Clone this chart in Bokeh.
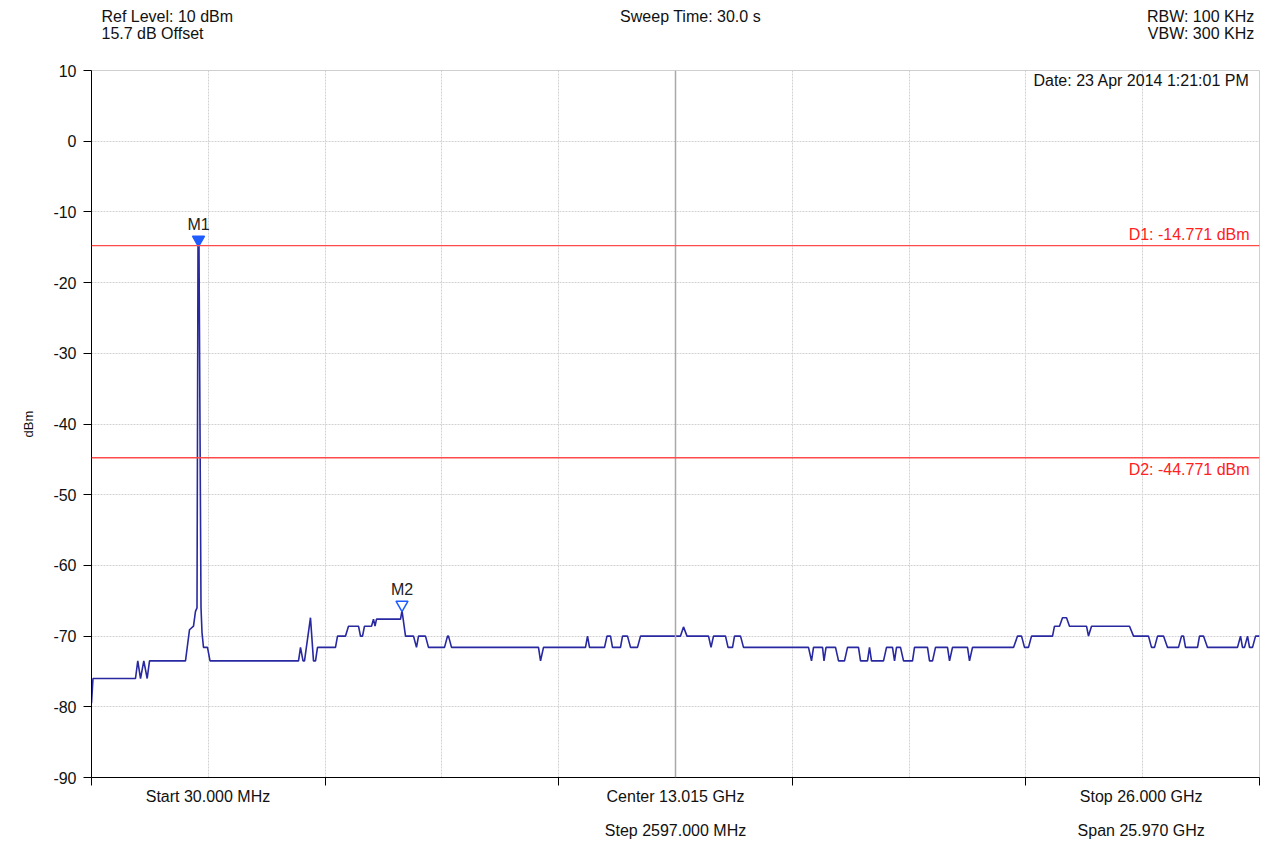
from bokeh.plotting import figure
from bokeh.models import FixedTicker, Span, Label, Range1d, LinearAxis
from bokeh.core.properties import value
from bokeh.embed import file_html
from bokeh.resources import INLINE

# ---------------- data ----------------
start_ghz = 0.030
stop_ghz = 26.000
center_ghz = 13.015
step_ghz = 2.597

y_ticks = [10, 0, -10, -20, -30, -40, -50, -60, -70, -80, -90]

freq_ghz = [
    0.030, 0.063, 1.008, 1.059, 1.120, 1.193, 1.268, 1.320, 2.120, 2.209,
    2.298, 2.342, 2.376, 2.398, 2.420, 2.465, 2.487, 2.520, 2.609, 2.665,
    4.633, 4.677, 4.733, 4.766, 4.899, 4.966, 5.011, 5.055, 5.455, 5.500,
    5.678, 5.744, 5.967, 6.011, 6.056, 6.100, 6.256, 6.300, 6.334, 6.367,
    6.901, 6.934, 7.012, 7.190, 7.256, 7.301, 7.456, 7.523, 7.879, 7.946,
    7.968, 8.035, 9.969, 10.014, 10.080, 11.014, 11.059, 11.103, 11.437, 11.492,
    11.570, 11.614, 11.792, 11.837, 11.948, 12.015, 12.170, 12.237, 13.126, 13.193,
    13.271, 13.749, 13.805, 13.860, 14.127, 14.183, 14.283, 14.327, 14.461, 14.527,
    15.972, 16.039, 16.084, 16.284, 16.317, 16.362, 16.573, 16.640, 16.773, 16.840,
    17.084, 17.129, 17.284, 17.329, 17.373, 17.640, 17.707, 17.840, 17.885, 17.929,
    18.018, 18.085, 18.285, 18.329, 18.618, 18.663, 18.730, 18.796, 19.063, 19.108,
    19.174, 19.508, 19.552, 19.619, 20.531, 20.620, 20.709, 20.775, 20.864, 20.931,
    21.398, 21.442, 21.553, 21.620, 21.709, 21.776, 22.154, 22.198, 22.265, 23.110,
    23.199, 23.532, 23.599, 23.666, 23.733, 23.866, 23.955, 24.199, 24.266, 24.311,
    24.355, 24.622, 24.666, 24.755, 24.844, 25.511, 25.578, 25.622, 25.667, 25.734,
    25.778, 25.845, 25.912, 26.000,
]
level_dbm = [
    -79.5, -76.0, -76.0, -73.5, -76.0, -73.5, -76.0, -73.5, -73.5, -69.1,
    -68.6, -66.5, -66.0, -14.8, -14.8, -66.0, -69.5, -71.6, -71.6, -73.5,
    -73.5, -71.6, -73.5, -73.5, -67.4, -73.5, -73.5, -71.6, -71.6, -70.0,
    -70.0, -68.6, -68.6, -70.0, -70.0, -68.6, -68.6, -67.6, -68.6, -67.6,
    -67.6, -66.4, -70.0, -70.0, -71.6, -70.0, -70.0, -71.6, -71.6, -70.0,
    -70.0, -71.6, -71.6, -73.5, -71.6, -71.6, -70.0, -71.6, -71.6, -70.0,
    -70.0, -71.6, -71.6, -70.0, -70.0, -71.6, -71.6, -70.0, -70.0, -68.7,
    -70.0, -70.0, -71.6, -70.0, -70.0, -71.6, -71.6, -70.0, -70.0, -71.6,
    -71.6, -73.5, -71.6, -71.6, -73.5, -71.6, -71.6, -73.5, -73.5, -71.6,
    -71.6, -73.5, -73.5, -71.6, -73.5, -73.5, -71.6, -71.6, -73.5, -71.6,
    -71.6, -73.5, -73.5, -71.6, -71.6, -73.5, -73.5, -71.6, -71.6, -73.5,
    -71.6, -71.6, -73.5, -71.6, -71.6, -70.0, -70.0, -71.6, -71.6, -70.0,
    -70.0, -68.6, -68.6, -67.4, -67.4, -68.6, -68.6, -70.0, -68.6, -68.6,
    -70.0, -70.0, -71.6, -71.6, -70.0, -70.0, -71.6, -71.6, -70.0, -70.0,
    -71.6, -71.6, -70.0, -70.0, -71.6, -71.6, -70.0, -71.6, -71.6, -70.0,
    -71.6, -71.6, -70.0, -70.0,
]

marker_names = ["M1", "M2"]
marker_ghz = [2.409, 6.934]
marker_dbm = [-14.771, -66.4]
marker_filled = [True, False]

display_names = ["D1", "D2"]
display_dbm = [-14.771, -44.771]

# header / footer texts and the frequencies they sit over
header_row1 = ["Ref Level: 10 dBm", "Sweep Time: 30.0 s", "RBW: 100 KHz"]
header_row1_ghz = [1.715, 13.349, 24.69]
header_row2 = ["15.7 dB Offset", "VBW: 300 KHz"]
header_row2_ghz = [1.386, 24.70]
date_text = "Date: 23 Apr 2014 1:21:01 PM"
footer = ["Start 30.000 MHz", "Center 13.015 GHz\n\nStep 2597.000 MHz",
          "Stop 26.000 GHz\n\nSpan 25.970 GHz"]
footer_ghz = [2.62, 13.015, 23.37]

# ---------------- figure ----------------
FONT = "Liberation Sans"
TXT = "#111111"
FS = "16px"
p = figure(width=1262, height=841, output_backend="svg", toolbar_location=None,
           x_range=Range1d(start_ghz, stop_ghz), y_range=Range1d(-90, 10),
           min_border_left=91, min_border_right=3, min_border_top=70,
           min_border_bottom=56)
p.title = None
p.background_fill_color = "white"
p.border_fill_color = "white"
p.outline_line_color = "#cfcfcf"
p.outline_line_width = 1

# y axis
p.yaxis.ticker = FixedTicker(ticks=y_ticks)
p.yaxis.major_label_overrides = {v: str(v) for v in y_ticks}
p.yaxis.major_label_text_font = FONT
p.yaxis.major_label_text_font_size = FS
p.yaxis.major_label_text_color = TXT
p.yaxis.major_tick_out = 8
p.yaxis.major_tick_in = 0
p.yaxis.minor_tick_line_color = None
p.yaxis.axis_line_color = "black"
p.yaxis.major_tick_line_color = "black"
p.yaxis.axis_label = "dBm"
p.yaxis.axis_label_text_font = FONT
p.yaxis.axis_label_text_font_style = "normal"
p.yaxis.axis_label_text_font_size = "13px"
p.yaxis.axis_label_text_color = TXT
p.yaxis.axis_label_standoff = 14
p.yaxis.major_label_standoff = 7

# x axis: tick marks every two divisions (minor), text labels as majors
x_major = [round(start_ghz + k * 2 * step_ghz, 3) for k in range(6)]
x_grid = [round(start_ghz + k * step_ghz, 3) for k in range(11)]
xa = p.xaxis[0]
xa.ticker = FixedTicker(ticks=footer_ghz, minor_ticks=x_major)
xa.major_label_overrides = dict(zip(footer_ghz, footer))
xa.major_label_text_font = FONT
xa.major_label_text_font_size = FS
xa.major_label_text_color = TXT
xa.major_label_text_line_height = 1.0
xa.major_label_standoff = 2
xa.major_tick_out = 0
xa.major_tick_in = 0
xa.major_tick_line_color = None
xa.minor_tick_out = 8
xa.minor_tick_in = 0
xa.minor_tick_line_color = "black"
xa.minor_tick_line_width = 1
xa.axis_line_color = "black"


def text_axis(ticks, labels, standoff):
    ax = LinearAxis(ticker=FixedTicker(ticks=ticks),
                    major_label_overrides=dict(zip(ticks, labels)))
    ax.axis_line_color = None
    ax.major_tick_line_color = None
    ax.minor_tick_line_color = None
    ax.major_tick_out = 0
    ax.major_tick_in = 0
    ax.major_label_standoff = standoff
    ax.major_label_text_font = FONT
    ax.major_label_text_font_size = FS
    ax.major_label_text_color = TXT
    ax.major_label_text_line_height = 1.0
    return ax


# header labels above the frame (inner row first)
p.add_layout(text_axis(header_row2_ghz, header_row2, 29), "above")
p.add_layout(text_axis(header_row1_ghz, header_row1, -3), "above")

# grid
p.xgrid.ticker = FixedTicker(ticks=x_grid)
p.ygrid.ticker = FixedTicker(ticks=y_ticks)
for g in (p.xgrid, p.ygrid):
    g.grid_line_color = "#d2d2d2"
    g.grid_line_dash = "2 1"
    g.grid_line_width = 1

p.add_layout(Span(location=center_ghz, dimension="height",
                  line_color="#a9a9a9", line_width=1.5))

# display lines
for name, v, dy in zip(display_names, display_dbm, [1.55, -1.65]):
    p.add_layout(Span(location=v, dimension="width", line_color="#ff4a4a",
                      line_width=1.3))
    p.add_layout(Label(x=25.78, y=v + dy, text=f"{name}: {v:.3f} dBm",
                       text_align="right", text_baseline="middle",
                       text_font=FONT, text_font_size=FS,
                       text_color="#ff2020"))

# trace
p.line(freq_ghz, level_dbm, line_color="#2828a0", line_width=1.6)

# markers
for name, fx, fy, filled in zip(marker_names, marker_ghz, marker_dbm, marker_filled):
    p.scatter([fx], [fy + 0.85], marker="inverted_triangle", size=12,
              line_color="#1f5cff", line_width=1.5,
              fill_color="#1f5cff" if filled else "white")
    p.text([fx], [fy], text=[name], text_align="center", text_baseline="bottom",
           y_offset=-13, text_font=value(FONT), text_font_size=FS,
           text_color="#222222")

# date inside plot
p.add_layout(Label(x=25.78, y=8.55, text=date_text, text_align="right",
                   text_baseline="middle", text_font=FONT,
                   text_font_size=FS, text_color=TXT))

open("out.html", "w").write(file_html(p, INLINE))
